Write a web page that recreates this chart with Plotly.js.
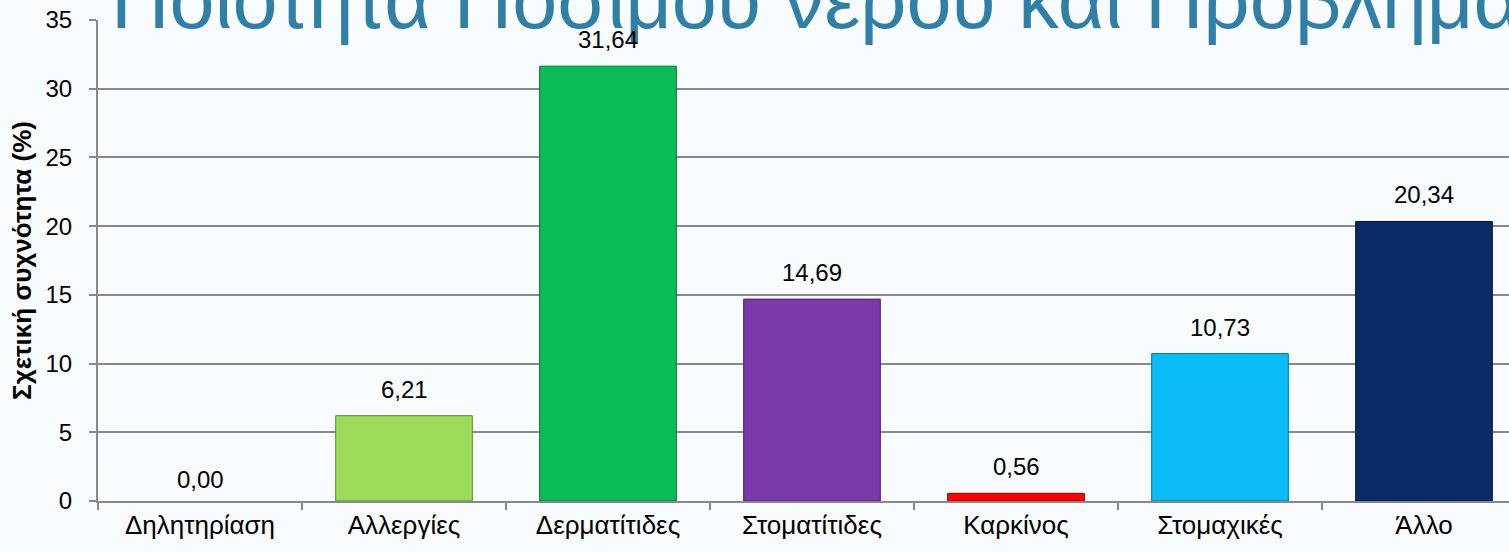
<!DOCTYPE html>
<html>
<head>
<meta charset="utf-8">
<script src="https://cdn.plot.ly/plotly-3.0.1.min.js"></script>
<style>
html,body{margin:0;padding:0;overflow:hidden;background:#f8fcfe;}
#chart{width:1526px;height:552px;}
</style>
</head>
<body>
<div id="chart"></div>
<script>
const categories = ["Δηλητηρίαση", "Αλλεργίες", "Δερματίτιδες", "Στοματίτιδες", "Καρκίνος", "Στομαχικές", "Άλλο"];
const values = [0.00, 6.21, 31.64, 14.69, 0.56, 10.73, 20.34];
const barColors = ["#9bdb57", "#9bdb57", "#0abb56", "#7b3aaa", "#ff0000", "#0abcf5", "#0b2a6a"];
const lineColors = ["#5f8a30", "#5f8a30", "#06753a", "#4a2070", "#900000", "#06779c", "#041538"];
const yTicks = [0, 5, 10, 15, 20, 25, 30, 35];
const titleText = "Ποιότητα Πόσιμου νερού και Προβλήματα";
const yTitle = "Σχετική συχνότητα (%)";

const FONT = "Liberation Sans, Arial, sans-serif";

const trace = {
  type: "bar",
  x: categories,
  y: values,
  marker: {color: barColors, line: {color: lineColors, width: values.map(v => v > 0 ? 1 : 0)}},
  hoverinfo: "skip"
};

const labelAnns = categories.map((c, i) => ({
  x: c, y: values[i], xref: "x", yref: "y",
  text: values[i].toFixed(2).replace(".", ","),
  showarrow: false, yanchor: "bottom", yshift: values[i] > 0 ? 11 : 6,
  font: {family: FONT, size: 24, color: "#000000"}
}));

const titleShape = {
  type: "rect", xref: "paper", yref: "paper",
  x0: 0, x1: 1, y0: 1.025, y1: 1.0916,
  layer: "below",
  line: {width: 0}, fillcolor: "rgba(0,0,0,0)",
  label: {
    text: titleText, textposition: "middle left", padding: 10,
    font: {family: FONT, size: 81, color: "#2f7fa6"}
  }
};

const layout = {
  width: 1526, height: 552,
  margin: {l: 98, r: 0, t: 20, b: 51, pad: 0},
  paper_bgcolor: "#f8fcfe", plot_bgcolor: "#f8fcfe",
  separators: ",.",
  bargap: 0.33,
  showlegend: false,
  xaxis: {
    type: "category",
    showline: true, linecolor: "#898989", linewidth: 2,
    ticks: "outside", tickson: "boundaries", ticklen: 7, tickcolor: "#898989", tickwidth: 2,
    showgrid: false, zeroline: false,
    tickfont: {family: FONT, size: 26, color: "#000000"},
    automargin: false
  },
  yaxis: {
    range: [0, 35], tickvals: yTicks, ticktext: yTicks.map(String),
    showline: true, linecolor: "#898989", linewidth: 2,
    ticks: "outside", ticklen: 7, tickcolor: "#898989", tickwidth: 2,
    showgrid: true, gridcolor: "#898989", gridwidth: 2, zeroline: false,
    tickfont: {family: FONT, size: 24, color: "#000000"},
    ticklabelstandoff: 12,
    title: {text: yTitle, font: {family: FONT, size: 26, color: "#000000", weight: "bold"}, standoff: 6},
    automargin: false
  },
  shapes: [titleShape],
  annotations: labelAnns
};

Plotly.newPlot("chart", [trace], layout, {displayModeBar: false, staticPlot: true});
</script>
</body>
</html>
